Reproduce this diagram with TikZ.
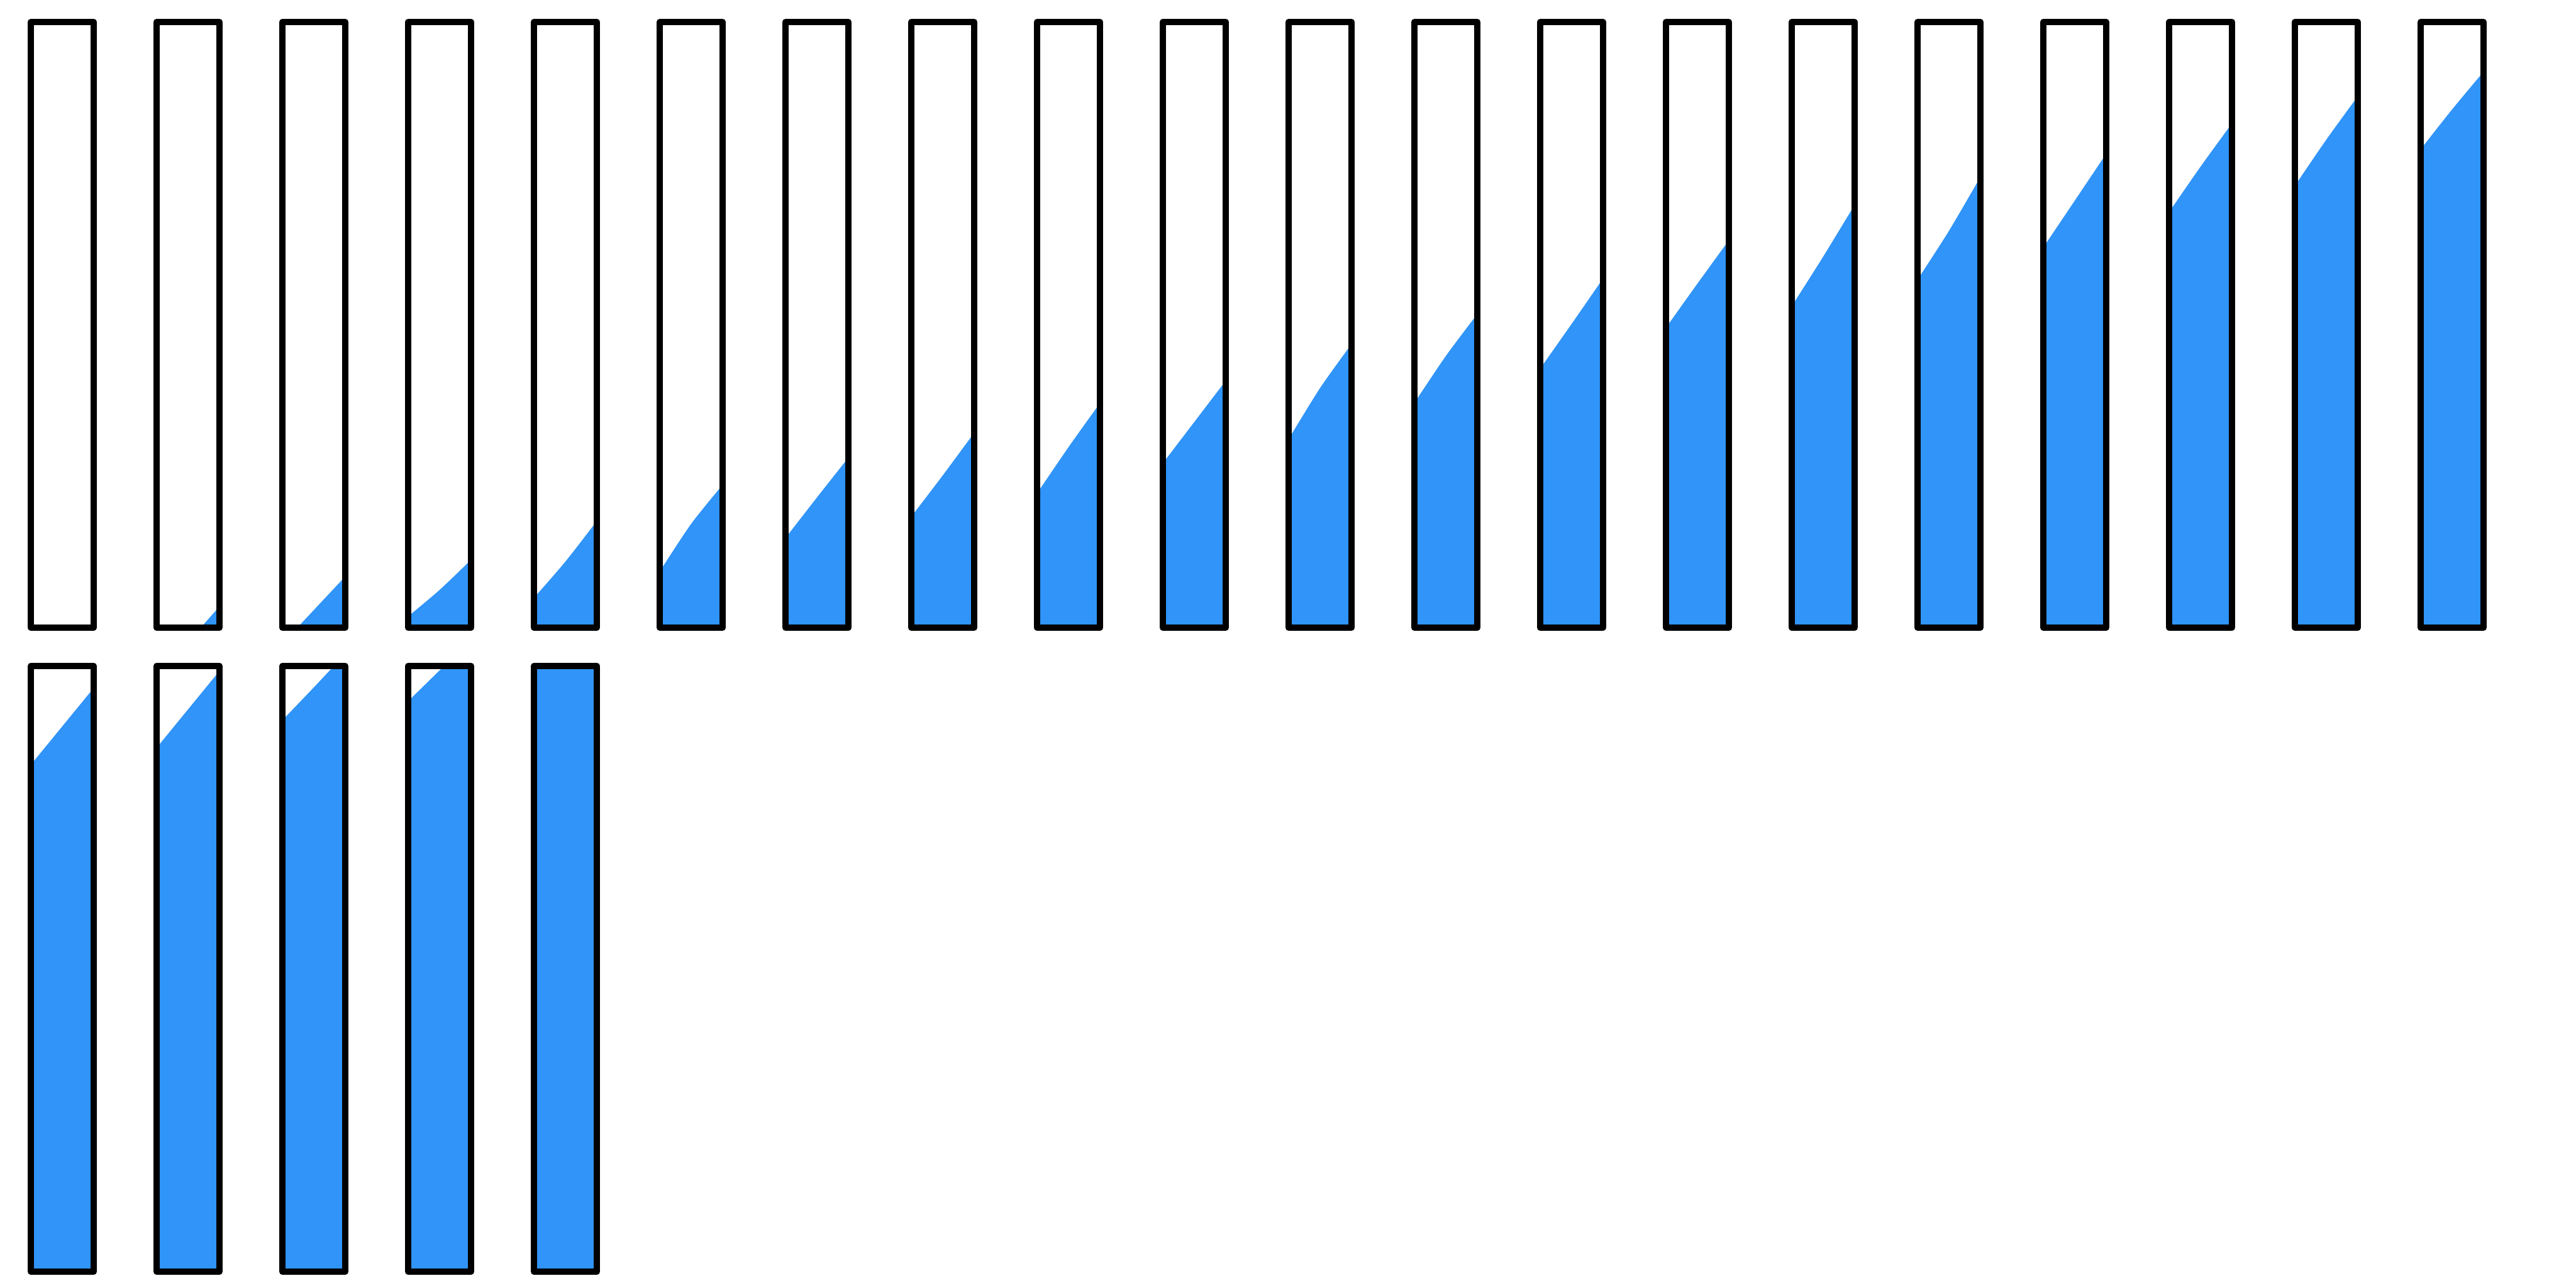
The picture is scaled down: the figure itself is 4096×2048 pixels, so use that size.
\documentclass[tikz,border=0pt]{standalone}
\usepackage{tikz}

\definecolor{agua}{RGB}{48,148,248}

\begin{document}
\begin{tikzpicture}[x=0.01cm, y=-0.01cm]

    % Marco de la imagen
    \useasboundingbox (0,0) rectangle (4096,2048);

    % Vasos: numero / nivel izquierdo / centro / derecho
    \foreach \n/\izq/\med/\der in {
        1/1100/1100/1100, 2/1073/1021/970, 3/1018/970/922, 4/976/938/895,
        5/945/893/835, 6/901/833/777, 7/849/791/734, 8/815/756/695,
        9/777/711/648, 10/730/671/612, 11/690/617/554, 12/633/566/506,
        13/579/515/450, 14/514/451/389, 15/479/408/334, 16/437/367/290,
        17/386/319/252, 18/330/265/203, 19/288/222/160, 20/231/174/120,
        21/186/131/76, 22/159/104/49, 23/116/69/21, 24/86/42/-2, 25/0/0/0} {

        \pgfmathtruncatemacro{\col}{mod(\n-1,20)}
        \pgfmathtruncatemacro{\fila}{int((\n-1)/20)}
        \pgfmathsetmacro{\xa}{49+200*\col}
        \pgfmathsetmacro{\ya}{1024*\fila}

        \begin{scope}[shift={(\xa,\ya)}]
            % Agua
            \begin{scope}
                \clip (0,35) rectangle (100,998);
                \fill[agua] (0,998) -- (0,\izq)
                    -- plot[smooth] coordinates {(5,\izq) (50,\med) (95,\der)}
                    -- (100,\der) -- (100,998) -- cycle;
            \end{scope}

            % Borde del vaso
            \draw[line width=0.1cm, line join=round] (0,35) rectangle (100,998);
        \end{scope}
    }

\end{tikzpicture}
\end{document}
